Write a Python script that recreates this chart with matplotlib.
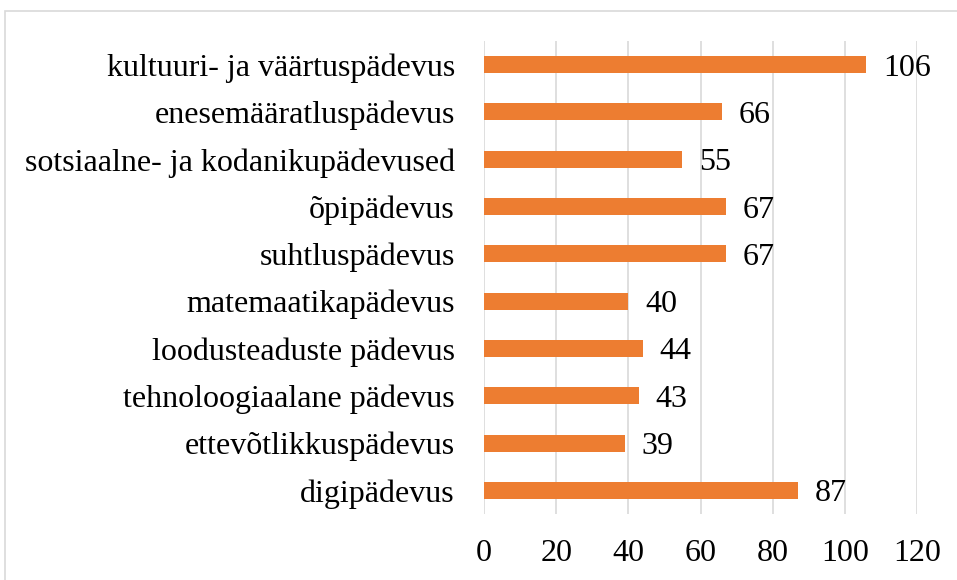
import matplotlib
matplotlib.use("Agg")
import matplotlib.pyplot as plt
from matplotlib.patches import Rectangle

categories = ["kultuuri- ja väärtuspädevus", "enesemääratluspädevus",
              "sotsiaalne- ja kodanikupädevused", "õpipädevus", "suhtluspädevus",
              "matemaatikapädevus", "loodusteaduste pädevus",
              "tehnoloogiaalane pädevus", "ettevõtlikkuspädevus", "digipädevus"]
values = [106, 66, 55, 67, 67, 40, 44, 43, 39, 87]
xticks = [0, 20, 40, 60, 80, 100, 120]

plt.rcParams['font.family'] = ['Liberation Serif', 'DejaVu Serif']
FS = 23

fig = plt.figure(figsize=(9.57, 5.8), dpi=100)
ax = fig.add_axes([484/957, 1-514/580, (917-484)/957, (514-41)/580])

fig.patches.append(Rectangle((5/957, -0.1), 1.2, 1.1 - 11/580, transform=fig.transFigure,
                             fill=False, edgecolor='#d9d9d9', linewidth=1.2, zorder=0))

ypos = list(range(len(categories)))
ax.barh(ypos, values, height=0.36, color='#ED7D31', zorder=3)
for y, v in zip(ypos, values):
    ax.annotate(str(v), (v, y), xytext=(12, -2.5), textcoords='offset points',
                va='center', ha='left', fontsize=FS, color='#000000')

ax.set_yticks(ypos)
ax.set_yticklabels(categories, fontsize=FS)
ax.set_ylim(len(categories) - 0.5, -0.5)
ax.set_xlim(0, 120)
ax.set_xticks(xticks)
ax.set_xticklabels([str(t) for t in xticks], fontsize=FS)
ax.grid(axis='x', color='#d9d9d9', linewidth=1.2, zorder=0)
ax.set_axisbelow(True)
for s in ax.spines.values():
    s.set_visible(False)
ax.tick_params(axis='both', length=0)
ax.tick_params(axis='y', pad=21)
ax.tick_params(axis='x', pad=18)

fig.savefig("out.png", dpi=100)
